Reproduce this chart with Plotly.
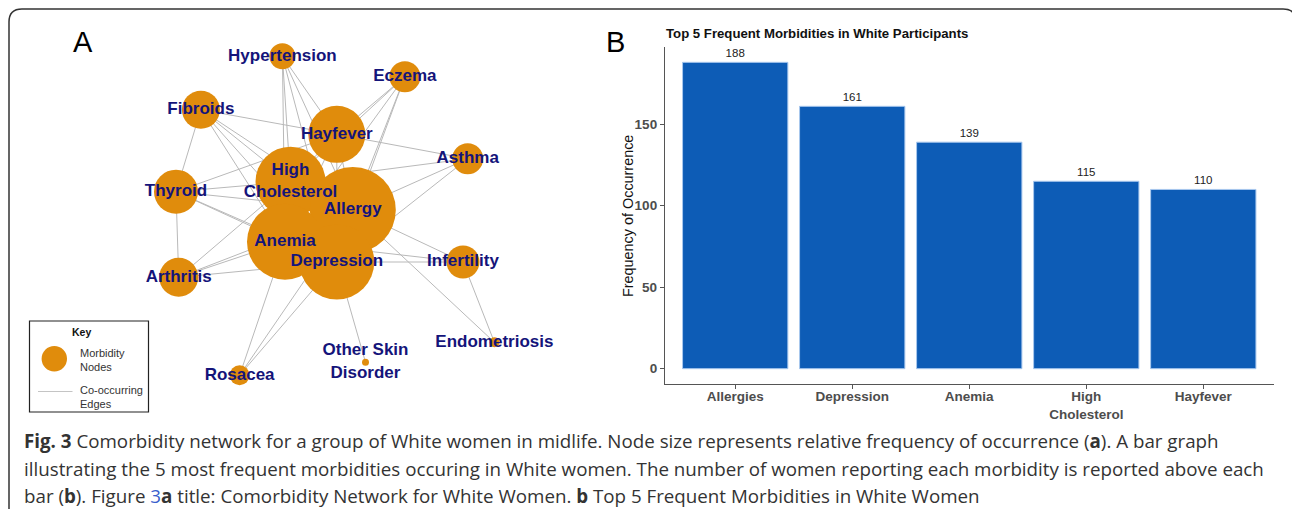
import plotly.graph_objects as go

W, H = 1292, 509

# ---------------- Network data (panel A) ----------------
node_names = ["Hypertension", "Eczema", "Fibroids", "Hayfever", "Asthma",
              "High<br>Cholesterol", "Thyroid", "Allergy", "Anemia", "Depression",
              "Infertility", "Arthritis", "Endometriosis", "Other Skin<br>Disorder", "Rosacea"]
node_keys = ["HTN", "ECZ", "FIB", "HAY", "AST", "CHOL", "THY", "ALL", "ANE", "DEP",
             "INF", "ART", "END", "OSD", "ROS"]
# layout coordinates of the network (as drawn by the network layout)
node_x = [282.4, 404.9, 200.9, 336.8, 467.7, 290.5, 176.0, 352.8, 285.0, 336.8,
          463.0, 178.7, 494.4, 365.5, 239.6]
node_y = [56.3, 76.7, 109.7, 134.3, 158.7, 181.7, 191.7, 210.0, 241.7, 262.0,
          262.0, 277.3, 342.3, 362.3, 375.3]
# relative frequency of occurrence (node weight)
node_weight = [26, 31, 38, 57, 31, 70, 44, 86, 76, 75, 33, 39, 10, 7, 20]

edges = [
    ("HTN", "CHOL"), ("HTN", "ALL"), ("HTN", "ANE"), ("HTN", "DEP"), ("HTN", "HAY"),
    ("ECZ", "HAY"), ("ECZ", "CHOL"), ("ECZ", "ALL"), ("ECZ", "ANE"), ("ECZ", "DEP"),
    ("FIB", "HAY"), ("FIB", "CHOL"), ("FIB", "ALL"), ("FIB", "ANE"), ("FIB", "DEP"),
    ("FIB", "THY"),
    ("HAY", "AST"), ("HAY", "THY"), ("HAY", "ALL"), ("HAY", "CHOL"), ("HAY", "ANE"),
    ("HAY", "DEP"),
    ("AST", "CHOL"), ("AST", "ALL"), ("AST", "DEP"),
    ("THY", "CHOL"), ("THY", "ALL"), ("THY", "ANE"), ("THY", "DEP"), ("THY", "ART"),
    ("ART", "CHOL"), ("ART", "ALL"), ("ART", "ANE"), ("ART", "DEP"),
    ("INF", "ALL"), ("INF", "DEP"), ("INF", "ANE"), ("INF", "END"),
    ("END", "ALL"),
    ("OSD", "DEP"),
    ("ROS", "ANE"), ("ROS", "DEP"), ("ROS", "ALL"),
    ("CHOL", "ALL"), ("CHOL", "ANE"), ("ANE", "DEP"), ("ALL", "DEP"), ("ALL", "ANE"),
]

# ---------------- Bar data (panel B) ----------------
bar_categories = ["Allergies", "Depression", "Anemia", "High<br>Cholesterol", "Hayfever"]
bar_values = [188, 161, 139, 115, 110]
y_ticks = [0, 50, 100, 150]

caption_lines = [
    "<b>Fig. 3</b> Comorbidity network for a group of White women in midlife. Node size represents relative frequency of occurrence (<b>a</b>). A bar graph",
    "illustrating the 5 most frequent morbidities occuring in White women. The number of women reporting each morbidity is reported above each",
    "bar (<b>b</b>). Figure <span style='color:#3a5fcd'>3</span><b>a</b> title: Comorbidity Network for White Women. <b>b</b> Top 5 Frequent Morbidities in White Women",
]

# ---------------- Build figure ----------------
idx = {k: i for i, k in enumerate(node_keys)}
ex, ey = [], []
for a, b in edges:
    ex += [node_x[idx[a]], node_x[idx[b]], None]
    ey += [node_y[idx[a]], node_y[idx[b]], None]

ORANGE = "#e08c0c"
NAVY = "#14147a"
SANS = "Liberation Sans, Arial, sans-serif"

fig = go.Figure()
fig.add_trace(go.Scatter(x=ex, y=ey, mode="lines",
                         line=dict(color="#b9b9b9", width=1), hoverinfo="skip",
                         showlegend=False, xaxis="x", yaxis="y"))
fig.add_trace(go.Scatter(x=node_x, y=node_y, mode="markers",
                         marker=dict(size=node_weight, color=ORANGE, line=dict(width=0), opacity=1),
                         hoverinfo="skip", showlegend=False, xaxis="x", yaxis="y"))
fig.add_trace(go.Scatter(x=node_x, y=node_y, mode="text", text=node_names,
                         textposition="middle center",
                         textfont=dict(family=SANS, size=17, color=NAVY, weight="bold"),
                         hoverinfo="skip", showlegend=False, xaxis="x", yaxis="y"))

fig.add_trace(go.Bar(x=bar_categories, y=bar_values, width=0.9,
                     marker=dict(color="#0d5cb6", line=dict(color="#a9c8ee", width=1)),
                     text=[str(v) for v in bar_values], textposition="outside",
                     textfont=dict(family=SANS, size=11.5, color="#222222"),
                     cliponaxis=False, showlegend=False, xaxis="x2", yaxis="y2"))

px2x = lambda p: p / W
py2y = lambda p: 1 - p / H

fig.update_layout(
    width=W, height=H, margin=dict(l=0, r=0, t=0, b=0),
    paper_bgcolor="white", plot_bgcolor="rgba(0,0,0,0)",
    font=dict(family=SANS),
    xaxis=dict(domain=[0, 1], range=[0, W], visible=False, fixedrange=True),
    yaxis=dict(domain=[0, 1], range=[H, 0], visible=False, fixedrange=True),
    xaxis2=dict(domain=[px2x(665), px2x(1273.5)], anchor="y2", range=[-0.6, 4.6],
                showline=True, linecolor="#555555", linewidth=1.3, ticks="outside",
                ticklen=4, tickcolor="#555555", showgrid=False, zeroline=False,
                ticklabelstandoff=-4,
                tickfont=dict(family=SANS, size=13.5, color="#4d4d4d", weight="bold"),
                fixedrange=True),
    yaxis2=dict(domain=[py2y(384), py2y(47)], anchor="x2", range=[-9.4, 197.4],
                showline=True, linecolor="#555555", linewidth=1.3, ticks="outside",
                ticklen=4, tickcolor="#555555", showgrid=False, zeroline=False,
                tickvals=y_ticks,
                tickfont=dict(family=SANS, size=13.5, color="#4d4d4d", weight="bold"),
                fixedrange=True),
    bargap=0.1,
)

shapes = []
# outer rounded frame (right side runs just outside the picture)
shapes.append(dict(type="path", xref="x", yref="y",
                   path="M 9,530 L 9,22 Q 9,9 22,9 L 1283,9 Q 1296,9 1296,22 L 1296,530",
                   line=dict(color="#333333", width=1.5), layer="above"))
# key box
shapes.append(dict(type="rect", xref="x", yref="y", x0=29.5, x1=148.5, y0=321, y1=412,
                   line=dict(color="#222222", width=1.2), fillcolor="white", layer="above"))
shapes.append(dict(type="circle", xref="x", yref="y", x0=54.3 - 12.7, x1=54.3 + 12.7,
                   y0=358.7 - 12.7, y1=358.7 + 12.7, fillcolor=ORANGE,
                   line=dict(width=0), layer="above"))
shapes.append(dict(type="line", xref="x", yref="y", x0=38, x1=72.5, y0=391.5, y1=391.5,
                   line=dict(color="#c4c4c4", width=1.2), layer="above"))
fig.update_layout(shapes=shapes)

ann = []
def A(text, x, y, size, color="#222222", xanchor="center", weight="normal",
      family=SANS, angle=0):
    ann.append(dict(text=text, x=x, y=y, xref="x", yref="y", showarrow=False,
                    xanchor=xanchor, yanchor="middle", align=xanchor if xanchor != "center" else "center",
                    textangle=angle,
                    font=dict(family=family, size=size, color=color, weight=weight)))

A("A", 83, 42, 29, "#000000")
A("B", 615.5, 42, 29, "#000000")
A("Top 5 Frequent Morbidities in White Participants", 664, 33, 13.2, "#111111",
  xanchor="left", weight="bold")
A("Frequency of Occurrence", 628, 216, 14.4, "#111111", angle=-90)
A("Key", 81.5, 331.5, 10.5, "#111111", weight="bold")
A("Morbidity<br>Nodes", 77.5, 360, 11, "#333333", xanchor="left")
A("Co-occurring<br>Edges", 77.5, 397, 11, "#333333", xanchor="left")
for line, yy in zip(caption_lines, [440, 468, 495]):
    A(line, 22, yy, 18.75, "#333333", xanchor="left", family="Open Sans, sans-serif")
fig.update_layout(annotations=ann)

fig.write_html("out.html", config={"displayModeBar": False},
               post_script="document.body.style.margin='0';document.body.style.overflow='hidden';")
